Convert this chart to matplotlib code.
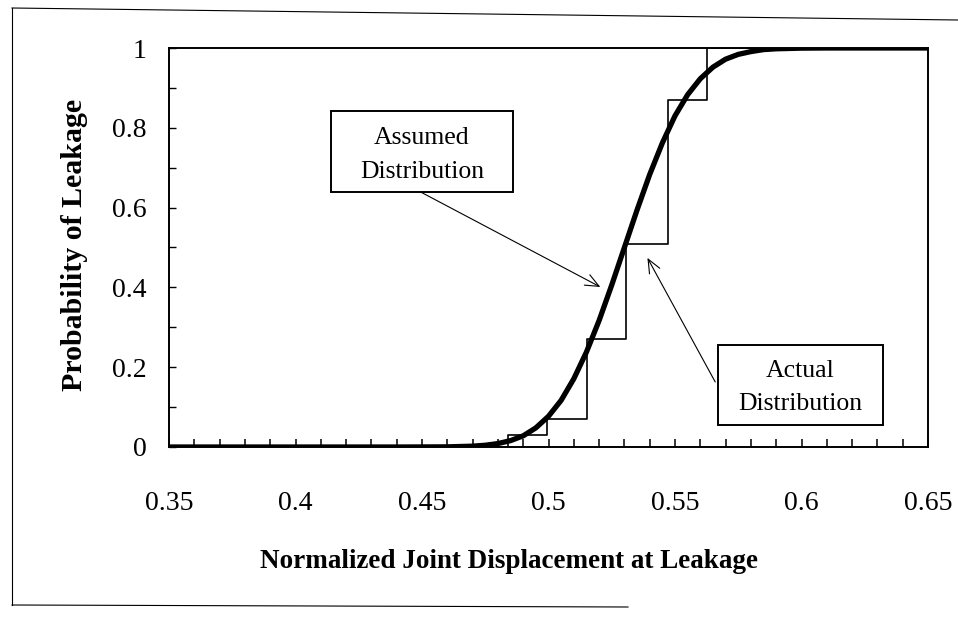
import matplotlib
matplotlib.use("Agg")
import matplotlib.pyplot as plt
from matplotlib.lines import Line2D
from matplotlib.patches import Rectangle
from matplotlib.ticker import FixedLocator, FixedFormatter, MultipleLocator

plt.rcParams['font.family'] = ['Liberation Serif', 'DejaVu Serif']

# Assumed (smooth) distribution
assumed_x = [0.35, 0.44, 0.46, 0.47, 0.475, 0.48, 0.485, 0.49, 0.495, 0.50, 0.505,
             0.51, 0.515, 0.52, 0.525, 0.53, 0.535, 0.54, 0.545, 0.55, 0.555,
             0.56, 0.565, 0.57, 0.575, 0.58, 0.585, 0.59, 0.60, 0.61, 0.65]
assumed_y = [0.0, 0.0, 0.0004, 0.0021, 0.0044, 0.0086, 0.016, 0.028, 0.048, 0.077, 0.117,
             0.171, 0.238, 0.317, 0.406, 0.5, 0.594, 0.683, 0.762, 0.830, 0.883,
             0.923, 0.952, 0.972, 0.984, 0.991, 0.996, 0.998, 0.9996, 1.0, 1.0]

# Actual (empirical step) distribution
actual_x = [0.35, 0.484, 0.4996, 0.5154, 0.5308, 0.5474, 0.5628, 0.65]
actual_y = [0.0, 0.03, 0.07, 0.27, 0.51, 0.87, 1.0, 1.0]

x_tick_vals = [0.35, 0.40, 0.45, 0.50, 0.55, 0.60, 0.65]
x_tick_labels = ["0.35", "0.4", "0.45", "0.5", "0.55", "0.6", "0.65"]
y_tick_vals = [0.0, 0.2, 0.4, 0.6, 0.8, 1.0]
y_tick_labels = ["0", "0.2", "0.4", "0.6", "0.8", "1"]

W, H = 958, 621
fig = plt.figure(figsize=(W / 100, H / 100), dpi=100)
L, R, T, B = 169, 928, 48, 447
ax = fig.add_axes([L / W, 1 - B / H, (R - L) / W, (B - T) / H])

ax.plot(actual_x, actual_y, drawstyle='steps-post', color='black', lw=1.2, zorder=2)
ax.plot(assumed_x, assumed_y, color='black', lw=3.8, solid_capstyle='butt',
        solid_joinstyle='round', zorder=3)

ax.set_xlim(0.35, 0.65)
ax.set_ylim(0, 1)

ax.xaxis.set_major_locator(FixedLocator(x_tick_vals))
ax.xaxis.set_major_formatter(FixedFormatter(x_tick_labels))
ax.xaxis.set_minor_locator(MultipleLocator(0.01))
ax.yaxis.set_major_locator(FixedLocator(y_tick_vals))
ax.yaxis.set_major_formatter(FixedFormatter(y_tick_labels))
ax.yaxis.set_minor_locator(MultipleLocator(0.1))

ax.tick_params(axis='x', which='both', direction='in', length=6, width=1.1,
               labelsize=20, pad=32)
ax.tick_params(axis='y', which='both', direction='in', length=5, width=1.0,
               labelsize=20, pad=16)
for sp in ax.spines.values():
    sp.set_linewidth(1.4)

ax.set_xlabel("Normalized Joint Displacement at Leakage", fontsize=19.5,
              fontweight='bold', va='top')
ax.xaxis.set_label_coords((509 - L) / (R - L), (B - 549) / (B - T))
ax.set_ylabel("Probability of Leakage", fontsize=21.5, fontweight='bold')
ax.yaxis.set_label_coords((88 - L) / (R - L), (B - 245) / (B - T))

# annotation boxes (pixel layout -> figure fractions)
def fbox(x0, y0, x1, y1):
    fig.add_artist(Rectangle((x0 / W, 1 - y1 / H), (x1 - x0) / W, (y1 - y0) / H,
                             transform=fig.transFigure, facecolor='white',
                             edgecolor='black', lw=1.4, zorder=5))

def ftext(x, y, s):
    fig.text(x / W, 1 - y / H, s, ha='center', va='center', fontsize=18.5, zorder=6)

fbox(331, 111, 513, 192)
ftext(422, 138, "Assumed")
ftext(422, 172, "Distribution")
fbox(718, 345, 883, 425)
ftext(800, 371, "Actual")
ftext(800, 404, "Distribution")

arrow = dict(arrowstyle='->,head_length=0.7,head_width=0.3', color='black', lw=0.8,
             shrinkA=0, shrinkB=0, mutation_scale=14)
ax.annotate("", xy=(0.5205, 0.401), xytext=(0.4495, 0.639), arrowprops=arrow)
ax.annotate("", xy=(0.5391, 0.474), xytext=(0.5659, 0.163), arrowprops=arrow)

# outer border of the scanned figure
for xs, ys in [([12, 12], [8, 605]), ([12, 958], [8, 20]), ([12, 628], [605, 607])]:
    fig.add_artist(Line2D([v / W for v in xs], [1 - v / H for v in ys], color='black',
                          lw=0.8, transform=fig.transFigure))

fig.savefig("out.png", dpi=100)
